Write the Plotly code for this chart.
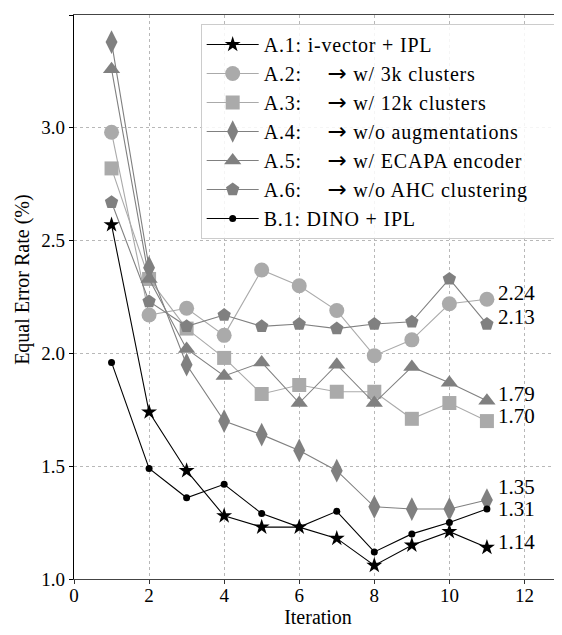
import plotly.graph_objects as go

iterations = [1, 2, 3, 4, 5, 6, 7, 8, 9, 10, 11]

a1_ivector_ipl = [2.57, 1.74, 1.48, 1.28, 1.23, 1.23, 1.18, 1.06, 1.15, 1.21, 1.14]
a2_3k_clusters = [2.98, 2.17, 2.20, 2.08, 2.37, 2.30, 2.19, 1.99, 2.06, 2.22, 2.24]
a3_12k_clusters = [2.82, 2.33, 2.11, 1.98, 1.82, 1.86, 1.83, 1.83, 1.71, 1.78, 1.70]
a4_no_aug = [3.38, 2.38, 1.95, 1.70, 1.64, 1.57, 1.48, 1.32, 1.31, 1.31, 1.35]
a5_ecapa = [3.26, 2.33, 2.02, 1.90, 1.96, 1.78, 1.95, 1.78, 1.94, 1.87, 1.79]
a6_no_ahc = [2.67, 2.23, 2.12, 2.17, 2.12, 2.13, 2.11, 2.13, 2.14, 2.33, 2.13]
b1_dino_ipl = [1.96, 1.49, 1.36, 1.42, 1.29, 1.23, 1.30, 1.12, 1.20, 1.25, 1.31]

x_ticks = [0, 2, 4, 6, 8, 10, 12]
y_ticks = [1.0, 1.5, 2.0, 2.5, 3.0, 3.5]

ARROW = "\u2003\u2009<span style='font-family:DejaVu Sans;font-size:23px'>→</span> "
series = [
    ("A.1: i-vector + IPL", a1_ivector_ipl, "#000000", "star", 12),
    (f"A.2:{ARROW}w/ 3k clusters", a2_3k_clusters, "#aaaaaa", "circle", 15),
    (f"A.3:{ARROW}w/ 12k clusters", a3_12k_clusters, "#aaaaaa", "square", 14),
    (f"A.4:{ARROW}w/o augmentations", a4_no_aug, "#808080", "diamond-tall", 17),
    (f"A.5:{ARROW}w/ ECAPA encoder", a5_ecapa, "#808080", "triangle-up", 15),
    (f"A.6:{ARROW}w/o AHC clustering", a6_no_ahc, "#808080", "pentagon", 14),
    ("B.1: DINO + IPL", b1_dino_ipl, "#000000", "circle", 7),
]
# pixel nudges for end-value labels (style only)
label_shift = [5, 6, 5, 13, 7, 7, 0]

FONT = "Liberation Serif"
TICKFONT = dict(family=FONT, size=19, color="black")


def legend_label(txt):
    # slightly widened lettering, as in the (horizontally stretched) reference
    return f"<span style='letter-spacing:0.8px'>{txt}</span>\u2003"


fig = go.Figure()
for name, vals, color, sym, size in series:
    fig.add_trace(go.Scatter(
        x=iterations, y=vals, name=legend_label(name), mode="lines+markers",
        line=dict(color=color, width=1.1),
        marker=dict(symbol=sym, size=size, color=color, line=dict(width=0)),
    ))

for (name, vals, color, *_), ys in zip(series, label_shift):
    fig.add_annotation(
        x=iterations[-1], y=vals[-1], text=f"{vals[-1]:.2f}",
        showarrow=False, xanchor="left", yanchor="middle",
        xshift=9, yshift=ys, font=dict(family=FONT, size=21, color="black"),
    )

# y-axis title (placed as in the reference, slightly above centre)
fig.add_annotation(
    xref="paper", yref="paper", x=-0.107, y=0.53, text="Equal Error Rate (%)",
    textangle=-90, showarrow=False, xanchor="center", yanchor="middle",
    font=dict(family=FONT, size=20, color="black"),
)

# page body has an 8px margin: figure is sized/offset to compensate
fig.update_layout(
    width=554, height=627,
    margin=dict(l=66, r=0, t=7, b=56),
    plot_bgcolor="white", paper_bgcolor="white",
    font=dict(family=FONT, size=20, color="black"),
    showlegend=True,
    legend=dict(
        x=0.985, xanchor="right", y=0.984, yanchor="top",
        bgcolor="rgba(255,255,255,0.85)", bordercolor="#cccccc", borderwidth=1,
        font=dict(family=FONT, size=20, color="black"), itemwidth=52, tracegroupgap=0,
    ),
    xaxis=dict(
        range=[0, 13], tickvals=x_ticks, tickfont=TICKFONT, ticklabelstandoff=-5,
        title=dict(text="Iteration", standoff=2, font=dict(family=FONT, size=20)),
        showline=True, linecolor="#444444", linewidth=1.2, mirror=True,
        ticks="outside", ticklen=4, tickcolor="#333333",
        showgrid=True, gridcolor="#b8b8b8", griddash="dot", gridwidth=0.8,
        zeroline=False, automargin=False,
    ),
    yaxis=dict(
        range=[1.0, 3.5], tickvals=y_ticks, tickformat=".1f", tickfont=TICKFONT,
        showline=True, linecolor="black", linewidth=1.2,
        ticks="outside", ticklen=4, tickcolor="black",
        showgrid=True, gridcolor="#b8b8b8", griddash="dot", gridwidth=0.8,
        zeroline=False, automargin=False,
    ),
)

fig.write_html("out.html")
